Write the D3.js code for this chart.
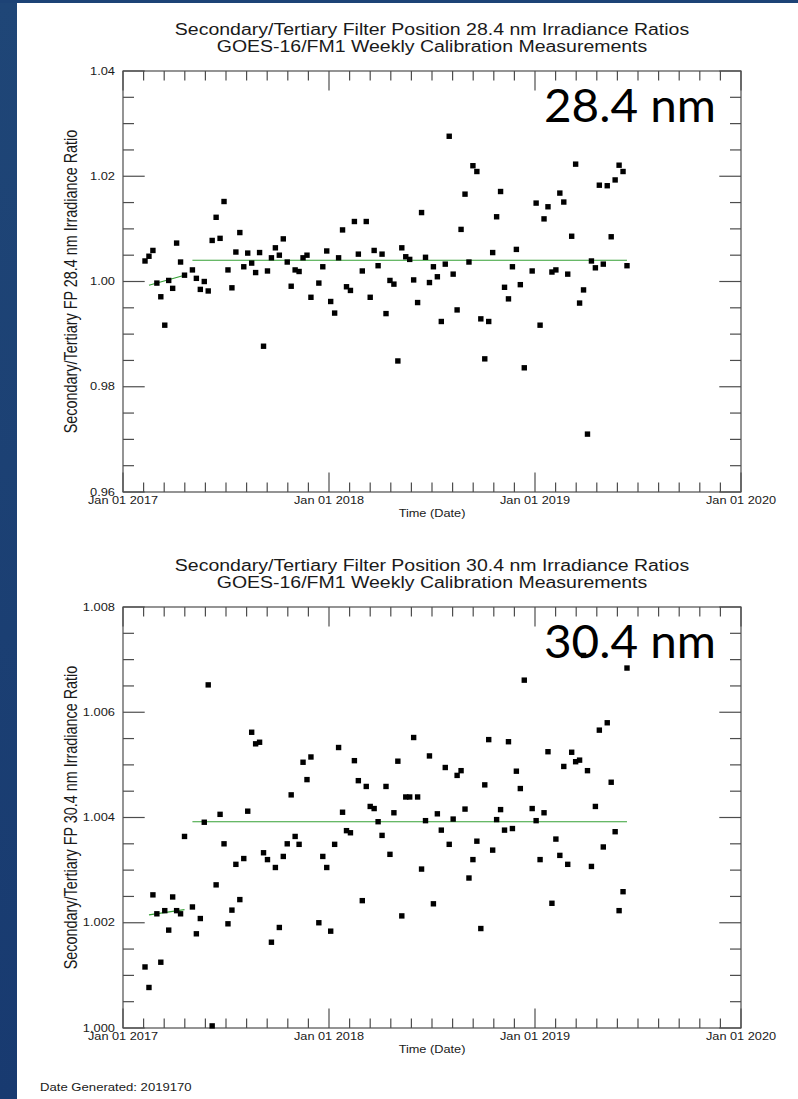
<!DOCTYPE html>
<html>
<head>
<meta charset="utf-8">
<script src="https://cdn.jsdelivr.net/npm/d3@7"></script>
<style>
  html, body { margin: 0; padding: 0; background: #fff; }
  svg { display: block; }
</style>
</head>
<body>
<svg id="chart" width="798" height="1099"></svg>
<script>
// Weekly calibration measurements, as days counted from Jan 01 2017
const measurementDays = [
  39, 46, 53, 60, 67, 74, 81, 88, 95, 102, 109,
  123, 130, 137, 144, 151, 158, 165, 172, 179, 186, 193, 200, 207, 214, 221,
  228, 235, 242, 249, 256, 263, 270, 277, 284, 291, 298, 305, 312, 319, 326, 333,
  347, 354, 361, 368, 375, 382, 389, 396, 403, 410, 417, 424, 431, 438, 445,
  452, 459, 466, 473, 480, 487, 494, 501, 508, 515, 522, 529, 536, 543, 550,
  557, 564, 571, 578, 585, 592, 599, 606, 613, 620, 627, 634, 641, 648, 655,
  662, 669, 676, 683, 690, 697, 704, 711,
  725, 732, 739, 746, 753, 760, 767, 774, 781, 788, 795, 802, 809, 816, 823,
  830, 837, 844, 851, 858, 865, 872, 879, 886, 893
];

// Secondary/Tertiary irradiance ratio, 28.4 nm filter position
const ratio284 = [
  1.0039, 1.0048, 1.0059, 0.9997, 0.9971, 0.9917, 1.0002, 0.9987, 1.0073, 1.0037, 1.0012,
  1.0022, 1.0006, 0.9985, 1.0000, 0.9982, 1.0078, 1.0122, 1.0082, 1.0152, 1.0022,
  0.9988, 1.0056, 1.0093, 1.0028, 1.0054, 1.0035, 1.0017, 1.0055, 0.9877, 1.0020,
  1.0045, 1.0064, 1.0050, 1.0081, 1.0037, 0.9991, 1.0022, 1.0019, 1.0045, 1.0050, 0.9970,
  0.9997, 1.0028, 1.0058, 0.9962, 0.9940, 1.0045, 1.0098, 0.9990, 0.9983, 1.0114,
  1.0052, 1.0020, 1.0114, 0.9970, 1.0059, 1.0030, 1.0052, 0.9939, 1.0002, 0.9995,
  0.9849, 1.0064, 1.0047, 1.0042, 1.0003, 0.9960, 1.0131, 1.0046, 0.9998, 1.0028,
  1.0009, 0.9924, 1.0033, 1.0276, 1.0014, 0.9946, 1.0099, 1.0166, 1.0037, 1.0220,
  1.0209, 0.9929, 0.9853, 0.9924, 1.0055, 1.0123, 1.0171, 0.9989, 0.9967, 1.0028,
  1.0061, 0.9994, 0.9836,
  1.0020, 1.0149, 0.9917, 1.0119, 1.0142, 1.0018, 1.0022, 1.0168, 1.0151, 1.0014,
  1.0086, 1.0223, 0.9959, 0.9984, 0.9710, 1.0039, 1.0026, 1.0183, 1.0033, 1.0182,
  1.0085, 1.0193, 1.0221, 1.0209, 1.0030
];

// Secondary/Tertiary irradiance ratio, 30.4 nm filter position
const ratio304 = [
  1.00116, 1.00077, 1.00253, 1.00217, 1.00125, 1.00223, 1.00186, 1.00249, 1.00223, 1.00217, 1.00364,
  1.00230, 1.00179, 1.00208, 1.00391, 1.00652, 1.00004, 1.00272, 1.00406, 1.00350, 1.00198,
  1.00224, 1.00311, 1.00244, 1.00322, 1.00412, 1.00562, 1.00540, 1.00543, 1.00333, 1.00320,
  1.00163, 1.00305, 1.00191, 1.00326, 1.00350, 1.00443, 1.00364, 1.00349, 1.00505, 1.00472, 1.00515,
  1.00200, 1.00326, 1.00305, 1.00184, 1.00349, 1.00533, 1.00410, 1.00375, 1.00371, 1.00508,
  1.00470, 1.00242, 1.00459, 1.00421, 1.00417, 1.00392, 1.00366, 1.00459, 1.00330, 1.00409,
  1.00507, 1.00213, 1.00439, 1.00439, 1.00552, 1.00439, 1.00302, 1.00394, 1.00517, 1.00236,
  1.00407, 1.00376, 1.00495, 1.00349, 1.00397, 1.00480, 1.00489, 1.00416, 1.00285, 1.00320,
  1.00355, 1.00189, 1.00462, 1.00548, 1.00338, 1.00396, 1.00415, 1.00376, 1.00544, 1.00379,
  1.00488, 1.00455, 1.00661,
  1.00417, 1.00394, 1.00320, 1.00409, 1.00525, 1.00237, 1.00359, 1.00328, 1.00497, 1.00311,
  1.00524, 1.00506, 1.00509, 1.00708, 1.00489, 1.00307, 1.00421, 1.00566, 1.00344, 1.00580,
  1.00467, 1.00373, 1.00223, 1.00259, 1.00684
];

// Fitted segments: [start day, start ratio, end day, end ratio]
const fit284 = [
  [46, 0.99928, 109, 1.00118],
  [123, 1.00403, 893, 1.00403]
];
const fit304 = [
  [46, 1.00215, 109, 1.00225],
  [123, 1.00392, 893, 1.00392]
];

// Axis ranges and labels
const timeStart = "2017-01-01";
const timeEnd = "2020-01-01";
const yearTicks = ["2017-01-01", "2018-01-01", "2019-01-01", "2020-01-01"];
const yRange284 = [0.96, 1.04];
const yRange304 = [1.000, 1.008];
const titleLine1 = [
  "Secondary/Tertiary Filter Position 28.4 nm Irradiance Ratios",
  "Secondary/Tertiary Filter Position 30.4 nm Irradiance Ratios"
];
const titleLine2 = "GOES-16/FM1 Weekly Calibration Measurements";
const yTitles = [
  "Secondary/Tertiary FP 28.4 nm Irradiance Ratio",
  "Secondary/Tertiary FP 30.4 nm Irradiance Ratio"
];
const bandLabels = ["28.4 nm", "30.4 nm"];
const xTitle = "Time (Date)";
const footer = "Date Generated: 2019170";

// ---------------------------------------------------------------------------
const svg = d3.select("#chart");
const W = 798, H = 1099;
const SX = 1.25;               // horizontal stretch of the plot lettering
const FONT = "'Liberation Sans', Arial, Helvetica, sans-serif";
const AXIS = "#4d4d4d";
const GREEN = "#35a035";

svg.append("rect").attr("width", W).attr("height", H).attr("fill", "#fff");
const bandGrad = svg.append("defs").append("linearGradient")
  .attr("id", "navy").attr("x1", 0).attr("y1", 0).attr("x2", 0).attr("y2", 1);
bandGrad.append("stop").attr("offset", 0).attr("stop-color", "#1f4677");
bandGrad.append("stop").attr("offset", 1).attr("stop-color", "#183a70");
svg.append("rect").attr("x", 0).attr("y", 0).attr("width", 17).attr("height", H).attr("fill", "url(#navy)");
svg.append("rect").attr("x", 0).attr("y", 0).attr("width", W).attr("height", 3).attr("fill", "#1d4376");

function addText(parent, x, y, str, size, anchor, rotate) {
  return parent.append("text")
    .attr("transform", `translate(${x},${y}) scale(${SX},1)` + (rotate ? " rotate(-90)" : ""))
    .attr("text-anchor", anchor)
    .attr("font-family", FONT)
    .attr("font-size", size)
    .attr("fill", "#1a1a1a")
    .text(str);
}

const parseDay = d3.utcParse("%Y-%m-%d");
const day0 = parseDay(timeStart);
const toDate = d => d3.utcDay.offset(day0, d);

const left = 123, right = 741;
const x = d3.scaleUtc().domain([parseDay(timeStart), parseDay(timeEnd)]).range([left, right]);

const panels = [
  { top: 71, bottom: 492, range: yRange284, majors: 4, minorPer: 4, fmt: ".2f",
    values: ratio284, fits: fit284 },
  { top: 607, bottom: 1028, range: yRange304, majors: 4, minorPer: 4, fmt: ".3f",
    values: ratio304, fits: fit304 }
];

// minor time ticks: tenths of each year
const years = yearTicks.map(parseDay);
const minorDates = [];
for (let i = 0; i < years.length - 1; i++) {
  for (let j = 1; j < 10; j++) {
    minorDates.push(new Date(+years[i] + (years[i + 1] - years[i]) * j / 10));
  }
}

panels.forEach((p, pi) => {
  const g = svg.append("g");
  const y = d3.scaleLinear().domain(p.range).range([p.bottom, p.top]);
  const midX = (left + right) / 2;

  // titles
  addText(g, midX, p.top - 36, titleLine1[pi], 15.6, "middle");
  addText(g, midX, p.top - 19.5, titleLine2, 15.6, "middle");

  // frame
  g.append("rect")
    .attr("x", left).attr("y", p.top)
    .attr("width", right - left).attr("height", p.bottom - p.top)
    .attr("fill", "none").attr("stroke", AXIS).attr("stroke-width", 1.2);

  // x ticks (bottom and top)
  const ticks = g.append("g").attr("stroke", AXIS).attr("stroke-width", 1.2);
  years.forEach(d => {
    ticks.append("line").attr("x1", x(d)).attr("x2", x(d)).attr("y1", p.bottom).attr("y2", p.bottom - 19.5);
    ticks.append("line").attr("x1", x(d)).attr("x2", x(d)).attr("y1", p.top).attr("y2", p.top + 19.5);
  });
  minorDates.forEach(d => {
    ticks.append("line").attr("x1", x(d)).attr("x2", x(d)).attr("y1", p.bottom).attr("y2", p.bottom - 9.5);
    ticks.append("line").attr("x1", x(d)).attr("x2", x(d)).attr("y1", p.top).attr("y2", p.top + 9.5);
  });

  // y ticks (left and right)
  const step = (p.range[1] - p.range[0]) / p.majors;
  const nMinor = p.majors * p.minorPer;
  for (let k = 0; k <= nMinor; k++) {
    const v = p.range[0] + (p.range[1] - p.range[0]) * k / nMinor;
    const len = k % p.minorPer === 0 ? 21.7 : 11;
    ticks.append("line").attr("x1", left).attr("x2", left + len).attr("y1", y(v)).attr("y2", y(v));
    ticks.append("line").attr("x1", right).attr("x2", right - len).attr("y1", y(v)).attr("y2", y(v));
  }

  // y tick labels
  const fmt = d3.format(p.fmt);
  for (let k = 0; k <= p.majors; k++) {
    const v = p.range[0] + step * k;
    addText(g, left - 8, y(v) + 3.5, fmt(v), 10.3, "end");
  }

  // x tick labels
  const fmtDate = d3.utcFormat("%b %d %Y");
  years.forEach(d => addText(g, x(d), p.bottom + 11.5, fmtDate(d), 10.2, "middle"));
  addText(g, midX, p.bottom + 24.7, xTitle, 10.2, "middle");

  // y title
  addText(g, 77, (p.top + p.bottom) / 2, yTitles[pi], 14.4, "middle", true);

  // fitted lines
  p.fits.forEach(f => {
    g.append("line")
      .attr("x1", x(toDate(f[0]))).attr("y1", y(f[1]))
      .attr("x2", x(toDate(f[2]))).attr("y2", y(f[3]))
      .attr("stroke", GREEN).attr("stroke-width", 1.1);
  });

  // measurement markers
  const s = 5.4;
  g.append("g").selectAll("rect")
    .data(measurementDays.map((d, i) => ({ date: toDate(d), v: p.values[i] })))
    .join("rect")
    .attr("x", d => x(d.date) - s / 2)
    .attr("y", d => y(d.v) - s / 2)
    .attr("width", s).attr("height", s)
    .attr("fill", "#000");

  // band label
  g.append("text")
    .attr("x", 716).attr("y", p.top + 51)
    .attr("text-anchor", "end")
    .attr("font-family", "Lato, 'Open Sans', sans-serif")
    .attr("font-size", 46)
    .attr("textLength", 172).attr("lengthAdjust", "spacingAndGlyphs")
    .attr("fill", "#000")
    .text(bandLabels[pi]);
});

addText(svg, 40, 1091, footer, 10.5, "start");
</script>
</body>
</html>
